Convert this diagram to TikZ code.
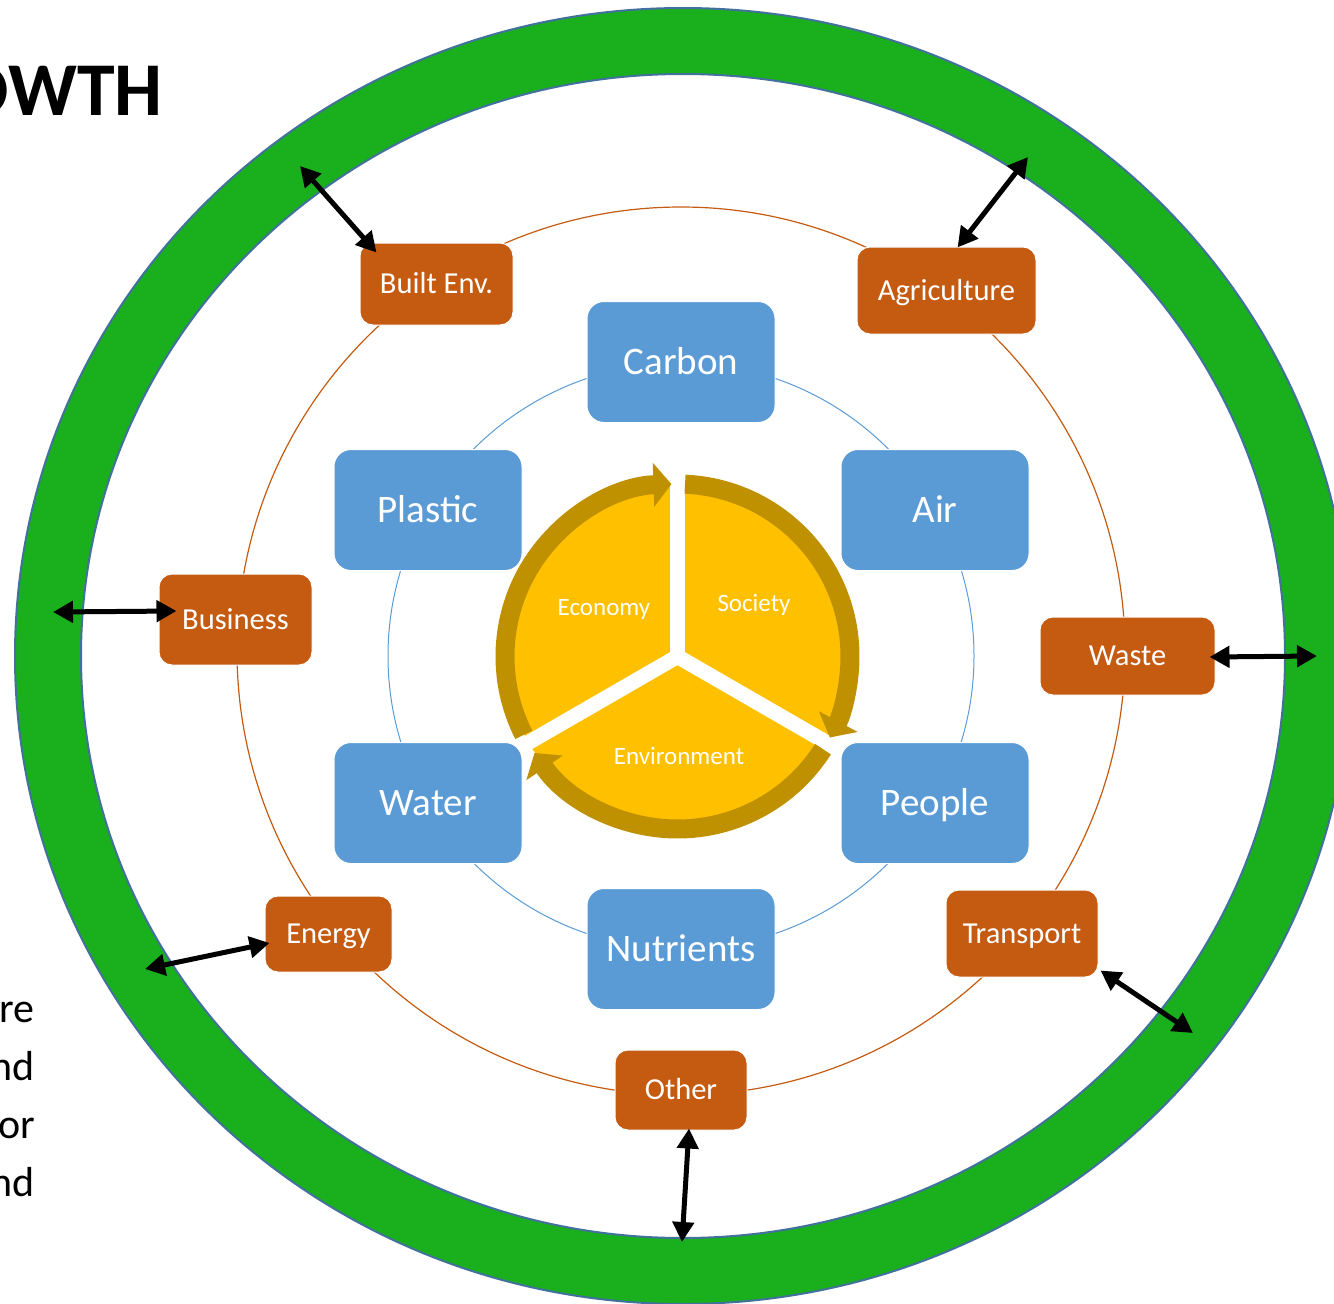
\documentclass[tikz,border=0pt]{standalone}
\usepackage{fontspec}
\setmainfont{Carlito}
\usetikzlibrary{arrows.meta,calc}

\definecolor{ringgreen}{HTML}{1AAF1C}
\definecolor{ringedge}{HTML}{41719C}
\definecolor{flowblue}{HTML}{5B9BD5}
\definecolor{sectororange}{HTML}{C55A11}
\definecolor{cycyellow}{HTML}{FFC000}
\definecolor{cycgold}{HTML}{BF9000}

\begin{document}
\begin{tikzpicture}[x=1pt, y=-1pt,
    flowbox/.style={rectangle, rounded corners=17pt, fill=flowblue, draw=white, line width=1pt, text=white,
        minimum width=188pt, minimum height=121pt, inner sep=0pt, text height=25pt, text depth=0pt,
        font=\fontsize{39}{47}\selectfont},
    sectorbox/.style={rectangle, rounded corners=13pt, fill=sectororange, draw=white, line width=1pt, text=white,
        inner sep=0pt, text height=19.6pt, text depth=0pt, font=\fontsize{30.5}{37}\selectfont},
    link/.style={line width=5pt, {Triangle[length=20pt,width=21pt]}-{Triangle[length=20pt,width=21pt]}},
    band/.style={cycgold, line width=19pt, -{Triangle[length=18pt,width=43pt]}},
    cyclabel/.style={text=white, inner sep=0pt, text height=16.1pt, text depth=0pt, font=\fontsize{25}{30}\selectfont}]
    \useasboundingbox (0,0) rectangle (1334,1304);

    % outer green ring
    \fill[ringgreen, even odd rule] (683,656) ellipse[x radius=668, y radius=648] (683,656) ellipse[x radius=602, y radius=582];
    \draw[ringedge, line width=2pt] (683,656) ellipse[x radius=668, y radius=648];
    \draw[ringedge, line width=2pt] (683,656) ellipse[x radius=602, y radius=582];

    % thin guide circles
    \draw[flowblue, line width=1pt] (681,656) circle[radius=293];
    \draw[sectororange, line width=1.2pt] (681,651) circle[radius=444];

    % centre cycle
    \begin{scope}[shift={(677.5,656.5)}, yscale=-1]
        \fill[cycyellow] (0,0) circle[radius=172];
        \foreach \a in {90,210,330}
            \draw[white, line width=15pt, line cap=round] (0,0) -- (\a:195);
        \draw[band] (207:172.5) arc[start angle=207, end angle=92, radius=172.5];
        \draw[band] (87.5:172.5) arc[start angle=87.5, end angle=-28, radius=172.5];
        \draw[band] (327.5:172.5) arc[start angle=327.5, end angle=214, radius=172.5];
    \end{scope}
    \node[cyclabel] (economy) at (604,607) {Economy};
    \node[cyclabel] (society) at (754,603) {Society};
    \node[cyclabel] (environment) at (679,756) {Environment};

    % inner flows
    \node[flowbox] (carbon) at (681,362) {Carbon};
    \node[flowbox] (plastic) at (428,510) {Plastic};
    \node[flowbox] (air) at (935,510) {Air};
    \node[flowbox] (water) at (428,803) {Water};
    \node[flowbox] (people) at (935,803) {People};
    \node[flowbox] (nutrients) at (681,949) {Nutrients};

    % sectors
    \node[sectorbox, minimum width=153pt, minimum height=82pt] (builtenv) at (436.5,284) {Built Env.};
    \node[sectorbox, minimum width=179pt, minimum height=87pt] (agriculture) at (946.5,290.5) {Agriculture};
    \node[sectorbox, minimum width=153pt, minimum height=91pt] (business) at (235.5,619.5) {Business};
    \node[sectorbox, minimum width=175pt, minimum height=78pt] (waste) at (1127.5,656) {Waste};
    \node[sectorbox, minimum width=127pt, minimum height=76pt] (energy) at (328.5,934) {Energy};
    \node[sectorbox, minimum width=152pt, minimum height=87pt] (transport) at (1022,933.5) {Transport};
    \node[sectorbox, minimum width=132pt, minimum height=80pt] (other) at (681,1090) {Other};

    % links to the ring
    \coordinate (ringbe) at (300,166);
    \coordinate (ringag) at (1028,157);
    \coordinate (ringbu) at (53,612);
    \coordinate (ringwa) at (1317,656);
    \coordinate (ringen) at (145,969);
    \coordinate (ringtr) at (1193,1033);
    \coordinate (ringot) at (682,1242);
    \draw[link] (ringbe) -- ($(builtenv.north west)+(17,10)$);
    \draw[link] (ringag) -- ($(agriculture.north)+(11,1)$);
    \draw[link] (ringbu) -- ($(business.west)+(18,-8.5)$);
    \draw[link] (ringwa) -- ($(waste.east)+(-6,1)$);
    \draw[link] (ringen) -- ($(energy.west)+(5,9)$);
    \draw[link] (ringtr) -- ($(transport.south east)+(2,-7)$);
    \draw[link] (ringot) -- ($(other.south)+(8,-2)$);

    % cut-off text at the edges
    \node[anchor=base east, inner sep=0pt, font=\bfseries\fontsize{76}{90}\selectfont] (title) at (163,115) {OWTH};
    \foreach \t [count=\i] in {re,nd,or,nd}
        \node[anchor=base east, inner sep=0pt, font=\fontsize{42}{58}\selectfont] (frag\i) at (35,964+58*\i) {\t};
\end{tikzpicture}
\end{document}
